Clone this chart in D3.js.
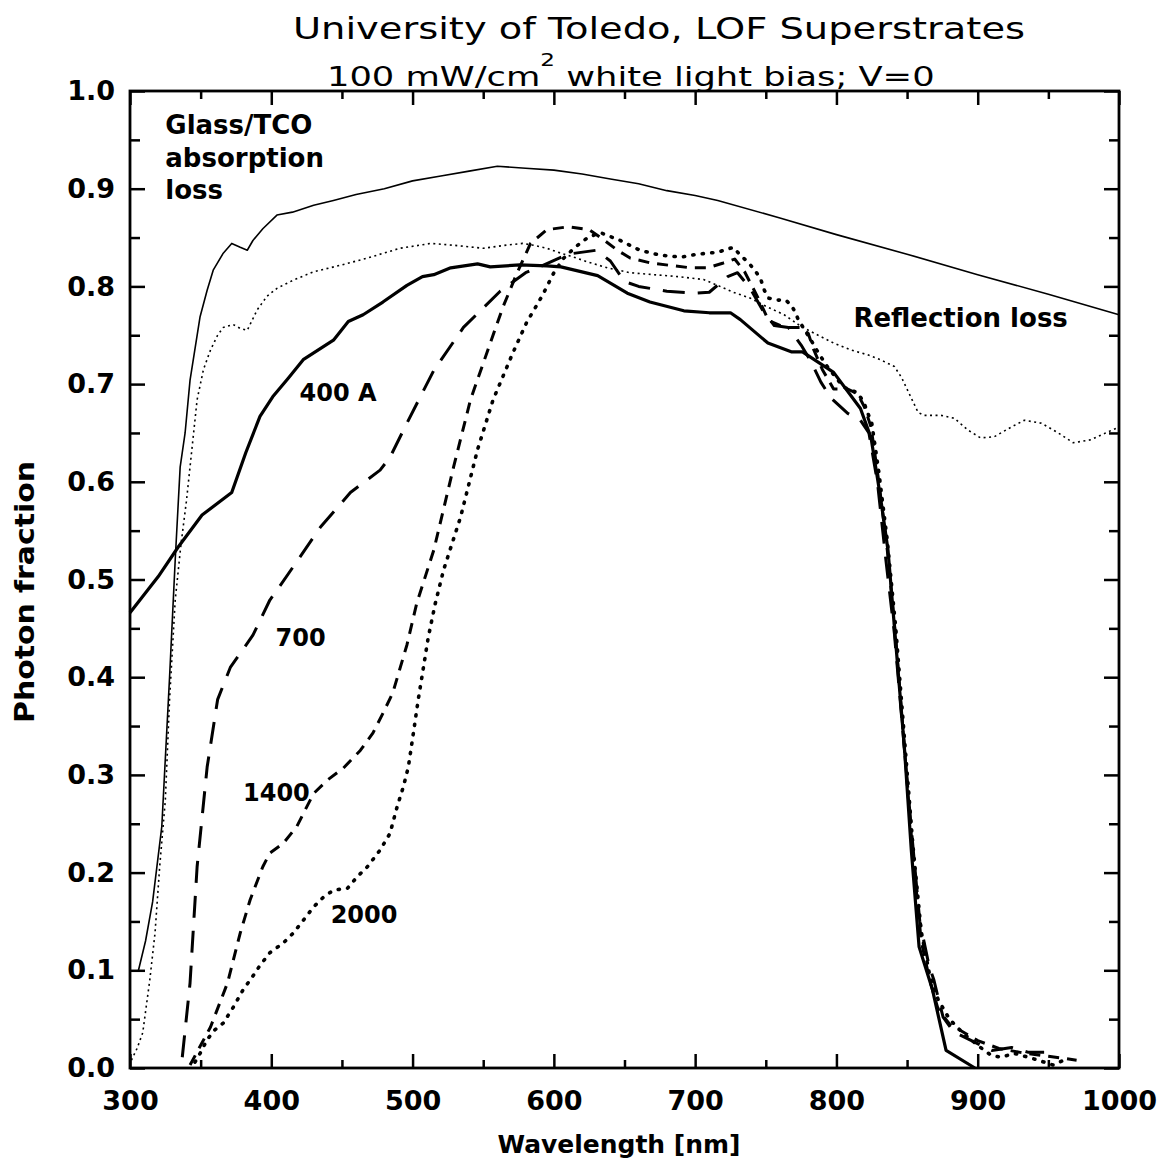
<!DOCTYPE html>
<html><head><meta charset="utf-8">
<script src="https://cdn.jsdelivr.net/npm/d3@7"></script>
<style>
html,body{margin:0;padding:0;background:#fff;}
text{font-family:"DejaVu Sans",sans-serif;fill:#000;}
</style></head>
<body>
<svg id="chart" width="1159" height="1167"></svg>
<script>
// ---------- DATA ----------
const titleText = "University of Toledo, LOF Superstrates";
const xLabel = "Wavelength [nm]";
const yLabel = "Photon fraction";

const xMajor = [300,400,500,600,700,800,900,1000];
const xMinor = [350,450,550,650,750,850,950];
const xTickLabels = ["300","400","500","600","700","800","900","1000"];
const yMajor = [0,0.1,0.2,0.3,0.4,0.5,0.6,0.7,0.8,0.9,1.0];
const yMinor = [0.05,0.15,0.25,0.35,0.45,0.55,0.65,0.75,0.85,0.95];
const yTickLabels = ["0.0","0.1","0.2","0.3","0.4","0.5","0.6","0.7","0.8","0.9","1.0"];

// Glass/TCO absorption loss (thin solid)
const glassLoss = [[306,0.10],[311,0.13],[316,0.17],[322.5,0.247],[328,0.40],[332,0.52],[335.5,0.615],[339,0.65],[342.5,0.704],[349.6,0.769],[354.6,0.796],[359,0.817],[366,0.834],[372,0.844],[378,0.84],[383,0.837],[387,0.847],[394,0.859],[404,0.873],[415,0.876],[430,0.883],[444,0.888],[460,0.894],[480,0.90],[500,0.908],[520,0.913],[540,0.918],[560,0.923],[580,0.921],[600,0.919],[620,0.915],[640,0.91],[660,0.905],[680,0.898],[700,0.893],[716,0.888],[760,0.870],[800,0.853],[850,0.833],[900,0.812],[950,0.792],[1000,0.771]];

// Reflection loss (thin dotted)
const reflLoss = [[301,0.008],[305,0.02],[309,0.036],[314,0.09],[317.7,0.138],[321,0.206],[325,0.274],[328,0.377],[332,0.479],[336,0.535],[340,0.581],[347.5,0.684],[352,0.715],[357,0.735],[362,0.75],[366,0.758],[373,0.761],[378,0.757],[383,0.755],[390,0.776],[397,0.79],[404,0.798],[415,0.806],[430,0.815],[450,0.822],[468,0.829],[491,0.839],[513,0.844],[530,0.842],[550,0.839],[565,0.842],[578,0.844],[586,0.842],[595,0.839],[605,0.834],[614,0.83],[624,0.825],[638,0.819],[654,0.814],[671,0.812],[688,0.81],[706,0.807],[716,0.801],[727,0.794],[739,0.788],[751,0.779],[763,0.771],[775,0.759],[787,0.75],[798,0.742],[810,0.735],[822,0.73],[831,0.725],[841,0.718],[846,0.707],[851.6,0.69],[857.8,0.671],[862,0.668],[874,0.668],[883.5,0.665],[893,0.653],[902,0.645],[911.6,0.646],[923.7,0.656],[933,0.663],[945,0.66],[957,0.65],[967.6,0.64],[980,0.643],[992,0.651],[1000,0.656]];

// 400 A (thick solid)
const cell400 = [[300,0.466],[320,0.503],[334,0.533],[351,0.566],[372,0.589],[382,0.63],[392,0.667],[401,0.687],[412,0.706],[422.6,0.725],[444,0.745],[454.5,0.764],[465,0.771],[479,0.784],[496,0.801],[507,0.81],[515,0.812],[527,0.819],[546,0.823],[555,0.82],[576,0.822],[595,0.821],[605,0.82],[631,0.811],[652,0.793],[668,0.784],[692,0.775],[710,0.773],[725,0.773],[732,0.766],[751.5,0.742],[768,0.733],[776,0.733],[798,0.712],[817,0.675],[824.5,0.645],[831.5,0.581],[836.5,0.53],[842,0.435],[848,0.33],[853,0.223],[858.5,0.124],[868,0.08],[877.6,0.018],[898,0.0]];

// 700 A (long dashes)
const cell700 = [[337,0.011],[342.5,0.087],[347.5,0.206],[354.6,0.308],[362,0.377],[371,0.41],[387,0.443],[399,0.479],[404,0.489],[415.5,0.513],[435,0.554],[456,0.589],[477,0.612],[484,0.625],[496,0.66],[515,0.714],[536,0.758],[562,0.795],[580,0.814],[590,0.82],[610,0.833],[630,0.837],[640,0.826],[650,0.805],[660,0.80],[680,0.795],[700,0.793],[710,0.794],[723,0.81],[730,0.814],[739,0.798],[748,0.775],[756,0.76],[766,0.758],[775,0.74],[782,0.723],[789,0.702],[796,0.686],[808,0.67],[817,0.663],[823,0.65],[829,0.6],[835,0.52],[841,0.445],[847,0.345],[853,0.245],[859,0.15],[865.5,0.105],[869,0.09],[872,0.072],[875.5,0.052],[883,0.037],[897,0.027],[910,0.018],[924,0.021],[936,0.016],[947,0.016]];

// 1400 A (medium dashes)
const cell1400 = [[342.5,0.003],[357,0.042],[369,0.087],[378,0.138],[385,0.172],[394,0.206],[399,0.22],[408.5,0.23],[418,0.247],[425,0.267],[430,0.281],[440,0.295],[451,0.307],[463,0.325],[472,0.343],[479,0.363],[486,0.384],[496,0.433],[503,0.476],[515,0.53],[529,0.615],[541,0.684],[555,0.742],[564,0.779],[574,0.814],[583.5,0.844],[595,0.858],[610,0.861],[625,0.858],[635,0.848],[645,0.837],[654,0.829],[668.5,0.824],[685,0.821],[697,0.819],[709,0.819],[720,0.824],[728,0.828],[735,0.815],[745,0.787],[752,0.765],[760,0.76],[766,0.758],[775,0.758],[780,0.752],[784,0.735],[790,0.715],[798,0.695],[808,0.695],[815,0.69],[820,0.676],[824.5,0.656],[830,0.6],[836,0.53],[842,0.44],[848,0.33],[854,0.22],[860,0.13],[866,0.09],[872,0.06],[880,0.045],[900,0.028],[915,0.02],[930,0.016],[950,0.012],[970,0.008]];

// 2000 A (dots)
const cell2000 = [[346,0.006],[349.6,0.015],[354.6,0.029],[360,0.039],[366,0.046],[373,0.062],[380,0.08],[386.5,0.093],[392,0.105],[399,0.118],[408.5,0.128],[415.5,0.138],[422.6,0.151],[430,0.165],[437,0.175],[444,0.182],[454,0.184],[461,0.196],[468,0.206],[477,0.223],[484,0.24],[489,0.267],[493.5,0.288],[497,0.308],[500.6,0.343],[504,0.377],[507.7,0.41],[511,0.44],[516,0.475],[522,0.51],[534,0.564],[546,0.633],[557,0.684],[571,0.732],[581,0.764],[586,0.776],[592,0.791],[600,0.814],[607,0.829],[615,0.84],[624,0.85],[633,0.855],[647,0.847],[661,0.837],[675,0.832],[690,0.83],[702,0.833],[716,0.835],[727,0.84],[732,0.832],[738,0.824],[743,0.815],[746.5,0.807],[749,0.796],[752,0.788],[758.5,0.786],[764,0.786],[768,0.781],[771,0.773],[773,0.766],[782,0.745],[786,0.735],[789,0.728],[794,0.717],[805,0.697],[815,0.691],[819.5,0.681],[822,0.671],[825,0.66],[830,0.61],[836,0.54],[842,0.45],[848,0.34],[854,0.23],[860,0.14],[866,0.095],[872,0.07],[880,0.05],[890,0.035],[902,0.021],[909.5,0.013],[916.6,0.011],[925.8,0.015],[935.7,0.011],[942.8,0.008],[953.4,0.003],[961,0.008]];

// annotations [text, wavelength, value]
const annotations = [
  ["Glass/TCO", 325, 0.956],
  ["absorption", 325, 0.922],
  ["loss", 325, 0.889],
  ["Reflection loss", 812, 0.758],
  ["400 A", 420, 0.683],
  ["700", 403, 0.432],
  ["1400", 380, 0.273],
  ["2000", 442, 0.148]
];

// ---------- DRAW ----------
const svg = d3.select("#chart");
const L = 130, R = 1119, T = 91, B = 1068;
const x = d3.scaleLinear().domain([300,1000]).range([L,R]);
const y = d3.scaleLinear().domain([0,1]).range([B,T]);

// title
svg.append("text").attr("x",659).attr("y",39).attr("text-anchor","middle")
  .attr("font-size",31).attr("textLength",732).attr("lengthAdjust","spacingAndGlyphs").text(titleText);
const sub = svg.append("text").attr("x",327).attr("y",86).attr("font-size",26);
sub.append("tspan").text("100 mW/cm");
sub.append("tspan").attr("font-size",17).attr("dy",-20).text("2");
sub.append("tspan").attr("dy",20).text(" white light bias; V=0");
// stretch subtitle to reference width
const sb = sub.node().getBBox();
sub.attr("transform", `translate(327,0) scale(${608/sb.width},1) translate(-327,0)`);

// axes
const g = svg.append("g");
function styleAxis(sel){
  sel.select(".domain").remove();
  sel.selectAll("line").attr("stroke","#000").attr("stroke-width",2.5);
  sel.selectAll("text").attr("font-size",27).attr("font-weight","bold").attr("fill","#000")
     .attr("font-family","DejaVu Sans");
}
g.append("g").attr("transform",`translate(0,${B})`)
  .call(d3.axisBottom(x).tickValues(xMajor).tickSize(-14).tickPadding(23).tickFormat((d,i)=>xTickLabels[i])).call(styleAxis);
g.append("g").attr("transform",`translate(0,${B})`)
  .call(d3.axisBottom(x).tickValues(xMinor).tickSize(-8).tickFormat("")).call(styleAxis);
g.append("g").attr("transform",`translate(0,${T})`)
  .call(d3.axisTop(x).tickValues(xMajor).tickSize(-14).tickFormat("")).call(styleAxis);
g.append("g").attr("transform",`translate(0,${T})`)
  .call(d3.axisTop(x).tickValues(xMinor).tickSize(-8).tickFormat("")).call(styleAxis);
g.append("g").attr("transform",`translate(${L},0)`)
  .call(d3.axisLeft(y).tickValues(yMajor).tickSize(-15).tickPadding(15).tickFormat((d,i)=>yTickLabels[i])).call(styleAxis);
g.append("g").attr("transform",`translate(${L},0)`)
  .call(d3.axisLeft(y).tickValues(yMinor).tickSize(-10).tickFormat("")).call(styleAxis);
g.append("g").attr("transform",`translate(${R},0)`)
  .call(d3.axisRight(y).tickValues(yMajor).tickSize(-15).tickFormat("")).call(styleAxis);
g.append("g").attr("transform",`translate(${R},0)`)
  .call(d3.axisRight(y).tickValues(yMinor).tickSize(-10).tickFormat("")).call(styleAxis);

svg.append("rect").attr("x",L).attr("y",T).attr("width",R-L).attr("height",B-T)
  .attr("fill","none").attr("stroke","#000").attr("stroke-width",2.8);

// curves
const line = d3.line().x(d=>x(d[0])).y(d=>y(d[1]));
const series = [
  {data: glassLoss, w:1.6, dash:null, cap:"butt"},
  {data: reflLoss, w:1.6, dash:"2,3.5", cap:"butt"},
  {data: cell400, w:3.2, dash:null, cap:"butt"},
  {data: cell700, w:3, dash:"22,13", cap:"butt"},
  {data: cell1400, w:3, dash:"11,8", cap:"butt"},
  {data: cell2000, w:3.6, dash:"1.2,8.3", cap:"round"}
];
series.forEach(s=>{
  svg.append("path").attr("d",line(s.data)).attr("fill","none").attr("stroke","#000")
    .attr("stroke-width",s.w).attr("stroke-dasharray",s.dash).attr("stroke-linecap",s.cap)
    .attr("stroke-linejoin","round");
});

// annotations
const annSize = {"Glass/TCO":26,"absorption":26,"loss":26,"Reflection loss":26};
annotations.forEach(a=>{
  svg.append("text").attr("x",x(a[1])).attr("y",y(a[2]))
    .attr("font-size",annSize[a[0]]||24).attr("font-weight","bold").text(a[0]);
});

// axis titles
svg.append("text").attr("x",619).attr("y",1153).attr("text-anchor","middle")
  .attr("font-size",25).attr("font-weight","bold").attr("textLength",243).attr("lengthAdjust","spacingAndGlyphs").text(xLabel);
svg.append("text").attr("transform","translate(34,592) rotate(-90)").attr("text-anchor","middle")
  .attr("font-size",27).attr("font-weight","bold").attr("textLength",262).attr("lengthAdjust","spacingAndGlyphs").text(yLabel);
</script>
</body></html>
